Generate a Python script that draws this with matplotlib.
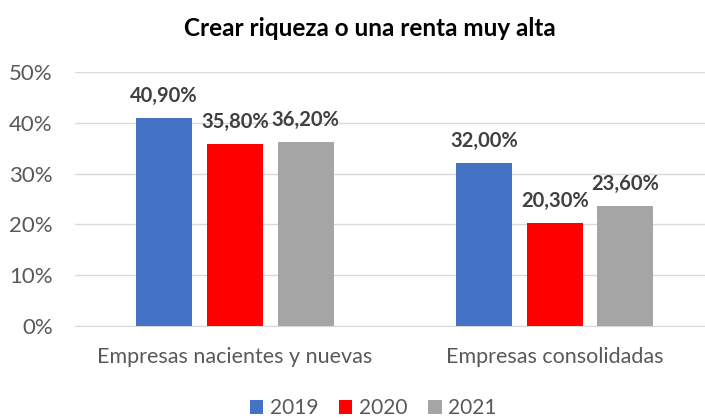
import matplotlib
matplotlib.use("Agg")
import matplotlib.pyplot as plt
import numpy as np

categories = ["Empresas nacientes y nuevas", "Empresas consolidadas"]
years = ["2019", "2020", "2021"]
v2019 = [40.9, 32.0]
v2020 = [35.8, 20.3]
v2021 = [36.2, 23.6]
series = [v2019, v2020, v2021]
colors = ["#4472C4", "#FF0000", "#A5A5A5"]

plt.rcParams['font.family'] = ['Lato', 'DejaVu Sans']

fig = plt.figure(figsize=(7.05, 4.19), dpi=100)
ax = fig.add_axes([75/705, 1-326/419, 630/705, (326-72)/419])

x = np.arange(len(categories))
w = 0.175
step = 0.221
for i, (vals, c, yr) in enumerate(zip(series, colors, years)):
    pos = x + (i - 1) * step
    bars = ax.bar(pos, vals, width=w, color=c, label=yr, zorder=3)
    for b, v in zip(bars, vals):
        ax.annotate(f"{v:.2f}%".replace(".", ","), (b.get_x() + b.get_width()/2, v),
                    xytext=(0, 16), textcoords="offset points", ha="center", va="center",
                    fontsize=14.5, fontweight="bold", color="#404040")

ax.set_ylim(0, 50)
ax.set_xlim(-0.5, 1.47)
ax.set_yticks(range(0, 51, 10))
ax.set_yticklabels([f"{t}%" for t in range(0, 51, 10)], fontsize=16, color="#595959")
ax.set_xticks(x)
ax.set_xticklabels(categories, fontsize=15.5, color="#595959")
ax.tick_params(axis="both", length=0)
ax.tick_params(axis="x", pad=15)
ax.tick_params(axis="y", pad=16)
ax.grid(axis="y", color="#D9D9D9", linewidth=1, zorder=0)
for s in ["top", "right", "left"]:
    ax.spines[s].set_visible(False)
ax.spines["bottom"].set_color("#D9D9D9")

fig.text(370/705, 1-28/419, "Crear riqueza o una renta muy alta", ha="center", va="center",
         fontsize=17.5, fontweight="bold", color="#000000")

leg = fig.legend(loc="center", bbox_to_anchor=(373/705, 1-408/419), ncol=3, frameon=False,
                 fontsize=15, handlelength=0.65, handleheight=0.65, handletextpad=0.3,
                 columnspacing=1.0)
for t in leg.get_texts():
    t.set_color("#595959")

fig.savefig("out.png", dpi=100)
